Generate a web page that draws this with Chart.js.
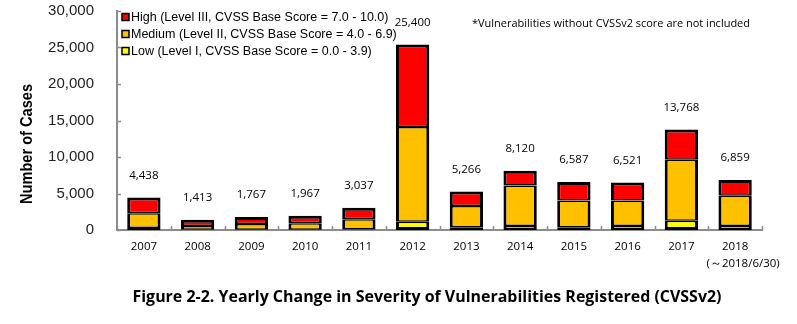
<!DOCTYPE html>
<html>
<head>
<meta charset="utf-8">
<script src="https://cdn.jsdelivr.net/npm/chart.js@4.4.1/dist/chart.umd.min.js"></script>
<style>
  html, body { margin: 0; padding: 0; background: #fff; }
  #wrap { position: relative; width: 797px; height: 324px; }
</style>
</head>
<body>
<div id="wrap"><canvas id="severityChart" width="797" height="324"></canvas></div>
<script>
// yearly registrations by CVSSv2 severity
const years = ["2007", "2008", "2009", "2010", "2011", "2012", "2013", "2014", "2015", "2016", "2017", "2018"];
const lowCounts = [270, 40, 40, 40, 60, 1140, 370, 550, 370, 550, 1280, 550];
const mediumCounts = [2020, 510, 790, 880, 1410, 12960, 2930, 5550, 3670, 3490, 8350, 4130];
const highCounts = [2148, 863, 937, 1047, 1567, 11300, 1966, 2020, 2547, 2481, 4138, 2179];
const yTickValues = [0, 5000, 10000, 15000, 20000, 25000, 30000];

const lastYearNote = "(～2018/6/30)";
const footNote = "*Vulnerabilities without CVSSv2 score are not included";
const figureTitle = "Figure 2-2. Yearly Change in Severity of Vulnerabilities Registered (CVSSv2)";
const yAxisTitle = "Number of Cases";

const severities = [
  { label: "High (Level III, CVSS Base Score = 7.0 - 10.0)", color: "#FF0000" },
  { label: "Medium (Level II, CVSS Base Score = 4.0 - 6.9)", color: "#FFC000" },
  { label: "Low (Level I, CVSS Base Score = 0.0 - 3.9)", color: "#FFFF00" }
];

const numFmt = (v) => Number(v).toLocaleString("en-US");
const labelFont = '11.5px "Open Sans", sans-serif';

// draw text squeezed/stretched to a given width
function fitText(ctx, text, x, y, width) {
  const w = ctx.measureText(text).width;
  ctx.save();
  ctx.translate(x, y);
  ctx.scale(width / w, 1);
  ctx.fillText(text, 0, 0);
  ctx.restore();
}

// extra drawing: inner ticks, totals, legend, notes and titles
const overlay = {
  id: "overlay",
  afterDraw(chart) {
    const ctx = chart.ctx;
    const xs = chart.scales.x;
    const ys = chart.scales.y;
    const area = chart.chartArea;
    ctx.save();

    // tick marks pointing into the plot
    ctx.strokeStyle = "#8c8c8c";
    ctx.lineWidth = 1.5;
    yTickValues.forEach((v) => {
      const y = Math.round(ys.getPixelForValue(v)) + 0.5;
      ctx.beginPath();
      ctx.moveTo(area.left, y);
      ctx.lineTo(area.left + 4, y);
      ctx.stroke();
    });
    const step = (area.right - area.left) / years.length;
    for (let i = 0; i <= years.length; i++) {
      const x = Math.round(area.left + step * i) + 0.5;
      ctx.beginPath();
      ctx.moveTo(x, area.bottom);
      ctx.lineTo(x, area.bottom - 4);
      ctx.stroke();
    }

    // totals above each stack
    ctx.fillStyle = "#000";
    ctx.font = labelFont;
    ctx.textAlign = "center";
    ctx.textBaseline = "middle";
    years.forEach((yr, i) => {
      const total = lowCounts[i] + mediumCounts[i] + highCounts[i];
      const x = xs.getPixelForValue(i);
      const y = ys.getPixelForValue(total) - 22;
      ctx.fillText(numFmt(total), x, y);
    });

    // date range under the last year
    ctx.fillText(lastYearNote, xs.getPixelForValue(years.length - 1) + 8, 264);

    // legend
    ctx.textAlign = "left";
    ctx.font = '12.5px "Liberation Sans", sans-serif';
    severities.forEach((s, i) => {
      const cy = 17 + i * 17;
      ctx.fillStyle = s.color;
      ctx.fillRect(122, cy - 3.5, 7, 7);
      ctx.strokeStyle = "#000";
      ctx.lineWidth = 1.5;
      ctx.strokeRect(122, cy - 3.5, 7, 7);
      ctx.fillStyle = "#000";
      ctx.fillText(s.label, 131, cy + 1);
    });

    // note
    ctx.font = '11px "Open Sans", sans-serif';
    fitText(ctx, footNote, 472, 24, 278);

    // y axis title (bold, narrow)
    ctx.save();
    ctx.translate(27, 144);
    ctx.rotate(-Math.PI / 2);
    ctx.font = 'bold 17px "Liberation Sans", sans-serif';
    ctx.textAlign = "center";
    fitText(ctx, yAxisTitle, 0, 0, 120);
    ctx.restore();

    // figure title
    ctx.font = 'bold 15.5px "Open Sans", sans-serif';
    ctx.textAlign = "center";
    fitText(ctx, figureTitle, 427, 298, 589);

    ctx.restore();
  }
};

const barCommon = {
  borderColor: "#000",
  borderSkipped: false,
  barPercentage: 0.62,
  categoryPercentage: 1,
  stack: "sev"
};

new Chart(document.getElementById("severityChart"), {
  type: "bar",
  data: {
    labels: years,
    datasets: [
      Object.assign({}, barCommon, {
        label: severities[2].label,
        data: lowCounts,
        backgroundColor: severities[2].color,
        borderWidth: { top: 1.5, bottom: 3, left: 3, right: 3 }
      }),
      Object.assign({}, barCommon, {
        label: severities[1].label,
        data: mediumCounts,
        backgroundColor: severities[1].color,
        borderWidth: { top: 1.5, bottom: 1.5, left: 3, right: 3 }
      }),
      Object.assign({}, barCommon, {
        label: severities[0].label,
        data: highCounts,
        backgroundColor: severities[0].color,
        borderWidth: { top: 3, bottom: 1.5, left: 3, right: 3 }
      })
    ]
  },
  options: {
    responsive: false,
    animation: false,
    layout: { padding: { left: 0, top: 11, right: 35, bottom: 44 } },
    plugins: {
      legend: { display: false },
      tooltip: { enabled: false }
    },
    scales: {
      x: {
        stacked: true,
        grid: { display: false },
        border: { color: "#8c8c8c", width: 2 },
        ticks: {
          color: "#000",
          font: { family: "Open Sans", size: 11.5 },
          padding: 2
        },
        afterFit: (s) => { s.height = 50; }
      },
      y: {
        stacked: true,
        min: 0,
        max: 30000,
        grid: { display: false },
        border: { color: "#8c8c8c", width: 2 },
        afterBuildTicks: (s) => { s.ticks = yTickValues.map((v) => ({ value: v })); },
        ticks: {
          color: "#222",
          font: { family: "Liberation Sans", size: 15 },
          padding: 15,
          callback: (v) => numFmt(v)
        },
        // fixed axis width; no extra room above the top tick
        afterFit: (s) => {
          s.width = 117;
          s.paddingTop = 0;
          s.paddingBottom = 0;
        }
      }
    }
  },
  plugins: [overlay]
});
</script>
</body>
</html>
